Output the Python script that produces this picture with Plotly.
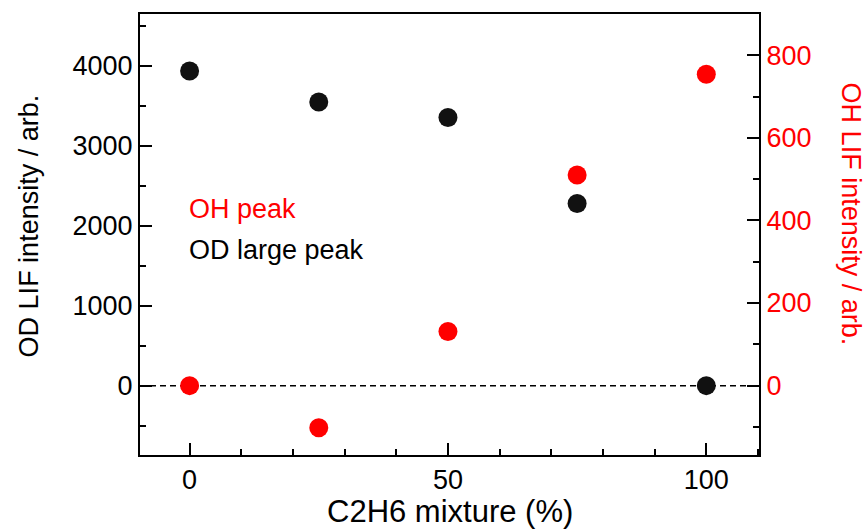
import plotly.graph_objects as go

# Data
mixture = [0, 25, 50, 75, 100]
od_large_peak = [3937, 3550, 3354, 2280, 0]     # left axis
oh_peak = [0, -102, 131, 510, 754]              # right axis

x_ticks = [0, 50, 100]
FONT = "Arial, Liberation Sans, Helvetica, sans-serif"
BLACK = "#111111"
RED = "#ff0000"

fig = go.Figure()
fig.add_trace(go.Scatter(x=mixture, y=od_large_peak, mode="markers",
                         marker=dict(size=19, color=BLACK), yaxis="y",
                         showlegend=False))
fig.add_trace(go.Scatter(x=mixture, y=oh_peak, mode="markers",
                         marker=dict(size=19, color=RED), yaxis="y2",
                         showlegend=False))

# dashed zero line
fig.add_shape(type="line", xref="paper", x0=0, x1=1, yref="y", y0=0, y1=0,
              line=dict(color="black", width=1.5, dash="6px,4px"), layer="below")

axis_common = dict(showgrid=False, zeroline=False, showline=True, linewidth=2,
                   linecolor="black", ticks="inside", ticklen=12, tickwidth=1.5,
                   tickcolor="black")

fig.update_layout(
    width=868, height=531,
    margin=dict(l=140, r=108.5, t=12, b=76),
    paper_bgcolor="white", plot_bgcolor="white",
    font=dict(family=FONT, size=27, color="black"),
    xaxis=dict(**axis_common, range=[-9.6, 110.2], tickvals=x_ticks,
               mirror=True,
               minor=dict(dtick=10, tick0=0, ticks="inside", ticklen=6,
                          tickwidth=1.5, tickcolor="black"),
               tickfont=dict(size=27, color="black")),
    yaxis=dict(**axis_common, range=[-868, 4650], tick0=0, dtick=1000,
               minor=dict(dtick=500, tick0=0, ticks="inside", ticklen=6,
                          tickwidth=1.5, tickcolor="black"),
               tickfont=dict(size=27, color="black")),
    yaxis2=dict(**axis_common, range=[-168, 900], tick0=0, dtick=200,
                overlaying="y", side="right",
                minor=dict(dtick=100, tick0=0, ticks="inside", ticklen=6,
                           tickwidth=1.5, tickcolor="black"),
                tickfont=dict(size=27, color=RED)),
    annotations=[
        dict(text="OD LIF intensity / arb.", xref="paper", yref="paper",
             x=-0.1795, y=0.5204, textangle=-90, showarrow=False,
             xanchor="center", yanchor="middle",
             font=dict(size=27, color="black")),
        dict(text="OH LIF intensity / arb.", xref="paper", yref="paper",
             x=1.1493, y=0.5464, textangle=90, showarrow=False,
             xanchor="center", yanchor="middle",
             font=dict(size=27, color=RED)),
        dict(text="C2H6 mixture (%)", xref="paper", yref="paper",
             x=0.5004, y=-0.127, showarrow=False,
             xanchor="center", yanchor="middle",
             font=dict(size=31, color="black")),
        dict(text="OH peak", xref="paper", yref="paper",
             x=0.0754, y=0.5588, showarrow=False,
             xanchor="left", yanchor="middle",
             font=dict(size=27, color=RED)),
        dict(text="OD large peak", xref="paper", yref="paper",
             x=0.0754, y=0.4638, showarrow=False,
             xanchor="left", yanchor="middle",
             font=dict(size=27, color="black")),
    ],
)

fig.write_html("out.html")
